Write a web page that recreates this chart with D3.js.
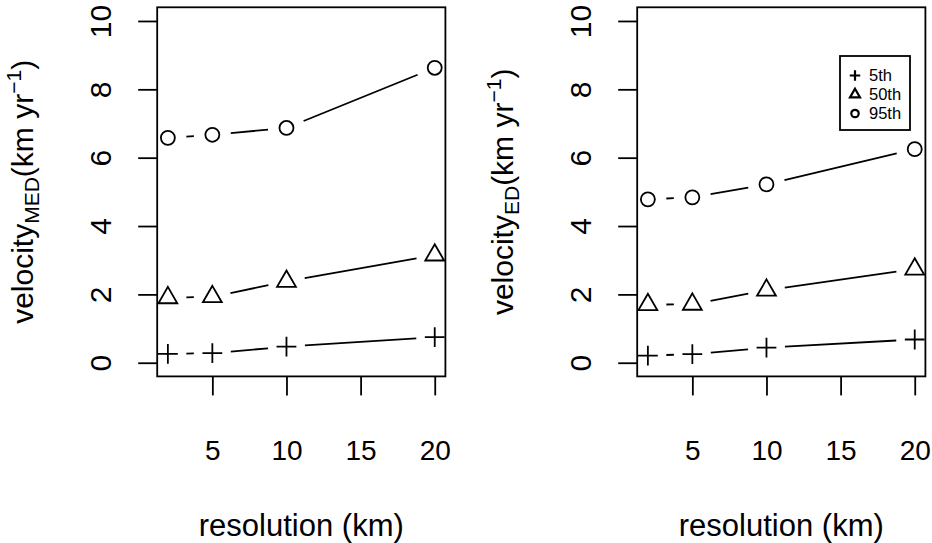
<!DOCTYPE html>
<html>
<head>
<meta charset="utf-8">
<script src="https://cdn.jsdelivr.net/npm/d3@7"></script>
<style>
  html, body { margin: 0; padding: 0; background: #fff; }
  svg { display: block; }
  text { font-family: "Liberation Sans", Arial, Helvetica, sans-serif; fill: #000; }
</style>
</head>
<body>
<svg id="chart" width="932" height="543"></svg>
<script>
// ---- data ----
const resolution = [2, 5, 10, 20];
const xTicks = [5, 10, 15, 20];
const yTicks = [0, 2, 4, 6, 8, 10];
const seriesNames = ["5th", "50th", "95th"];
const seriesSymbols = ["plus", "triangle", "circle"];
const medP5  = [0.26, 0.28, 0.47, 0.75];
const medP50 = [1.90, 1.93, 2.38, 3.15];
const medP95 = [6.58, 6.67, 6.87, 8.63];
const edP5   = [0.21, 0.25, 0.44, 0.68];
const edP50  = [1.70, 1.71, 2.12, 2.74];
const edP95  = [4.78, 4.84, 5.22, 6.25];

const panels = [
  { sub: "MED", series: [medP5, medP50, medP95], legend: false, offset: 0 },
  { sub: "ED",  series: [edP5, edP50, edP95],   legend: true,  offset: 480 }
];

const svg = d3.select("#chart");
const FONT = '"Liberation Sans", Arial, Helvetica, sans-serif';

function symbolPath(g, type, cx, cy, R0, sw) {
  if (type === "circle") {
    g.append("circle").attr("cx", cx).attr("cy", cy).attr("r", R0)
      .attr("fill", "none").attr("stroke", "#000").attr("stroke-width", sw);
  } else if (type === "triangle") {
    const r = 1.555 * R0, xc = 1.347 * R0, yc = 0.778 * R0;
    const pts = [[cx, cy - r], [cx + xc, cy + yc], [cx - xc, cy + yc]];
    g.append("path").attr("d", d3.line()(pts) + "Z")
      .attr("fill", "none").attr("stroke", "#000").attr("stroke-width", sw)
      .attr("stroke-linejoin", "miter");
  } else {
    const h = 1.414 * R0;
    g.append("path").attr("d", `M${cx - h},${cy}H${cx + h}M${cx},${cy - h}V${cy + h}`)
      .attr("fill", "none").attr("stroke", "#000").attr("stroke-width", sw);
  }
}

panels.forEach(p => {
  const o = p.offset;
  const x = d3.scaleLinear().domain([1.28, 20.72]).range([157.2 + o, 445.4 + o]);
  const y = d3.scaleLinear().domain([-0.4, 10.4]).range([376.4, 7.3]);
  const g = svg.append("g");

  // box
  g.append("rect")
    .attr("x", x.range()[0]).attr("y", y.range()[1])
    .attr("width", x.range()[1] - x.range()[0])
    .attr("height", y.range()[0] - y.range()[1])
    .attr("fill", "none").attr("stroke", "#000").attr("stroke-width", 1.8);

  // y axis
  const ya = g.append("g").attr("transform", `translate(${x.range()[0]},0)`)
    .call(d3.axisLeft(y).tickValues(yTicks).tickSize(19).tickFormat(d3.format("d")));
  ya.select(".domain").remove();
  ya.selectAll(".tick line").attr("stroke", "#000").attr("stroke-width", 1.8);
  ya.selectAll(".tick text")
    .attr("transform", "rotate(-90)")
    .attr("x", 0).attr("y", -46).attr("dy", null)
    .attr("text-anchor", "middle")
    .style("font-family", FONT).style("font-size", "30px");

  // x axis
  const xa = g.append("g").attr("transform", `translate(0,${y.range()[0]})`)
    .call(d3.axisBottom(x).tickValues(xTicks).tickSize(19).tickFormat(d3.format("d")));
  xa.select(".domain").remove();
  xa.selectAll(".tick line").attr("stroke", "#000").attr("stroke-width", 1.8);
  xa.selectAll(".tick text")
    .attr("y", 84).attr("dy", null)
    .style("font-family", FONT).style("font-size", "28px");

  // x title
  g.append("text")
    .attr("x", (x.range()[0] + x.range()[1]) / 2).attr("y", 536)
    .attr("text-anchor", "middle").style("font-size", "31px")
    .text("resolution (km)");

  // y title
  const yt = g.append("text")
    .attr("transform", `translate(${33 + o},${(y.range()[0] + y.range()[1]) / 2}) rotate(-90)`)
    .attr("text-anchor", "middle").style("font-size", "30px");
  yt.append("tspan").text("velocity");
  yt.append("tspan").attr("dy", 6).style("font-size", "21px").text(p.sub);
  yt.append("tspan").attr("dy", -6).text("(km yr");
  yt.append("tspan").attr("dy", -12).style("font-size", "21px").text("\u2212");
  yt.append("tspan").style("font-size", "21px").text("1");
  yt.append("tspan").attr("dy", 12).text(")");

  // series (type = "b")
  const gap = 18.5;
  p.series.forEach((vals, si) => {
    const pts = resolution.map((r, i) => [x(r), y(vals[i])]);
    for (let i = 1; i < pts.length; i++) {
      const [x0, y0] = pts[i - 1], [x1, y1] = pts[i];
      const dx = x1 - x0, dy = y1 - y0, L = Math.hypot(dx, dy);
      if (L > 2 * gap) {
        const f = gap / L;
        g.append("line")
          .attr("x1", x0 + f * dx).attr("y1", y0 + f * dy)
          .attr("x2", x1 - f * dx).attr("y2", y1 - f * dy)
          .attr("stroke", "#000").attr("stroke-width", 1.8);
      }
    }
    pts.forEach(([px, py]) => symbolPath(g, seriesSymbols[si], px, py, 7, 1.8));
  });

  // legend
  if (p.legend) {
    const lg = g.append("g");
    lg.append("rect").attr("x", 840).attr("y", 56).attr("width", 70).attr("height", 74)
      .attr("fill", "#fff").attr("stroke", "#000").attr("stroke-width", 1.8);
    seriesNames.forEach((name, i) => {
      const cy = 75.5 + i * 19;
      symbolPath(lg, seriesSymbols[i], 855, cy, 3.7, 2.2);
      lg.append("text").attr("x", 869).attr("y", cy).attr("dy", "0.36em")
        .style("font-size", "16.5px").text(name);
    });
  }
});
</script>
</body>
</html>
